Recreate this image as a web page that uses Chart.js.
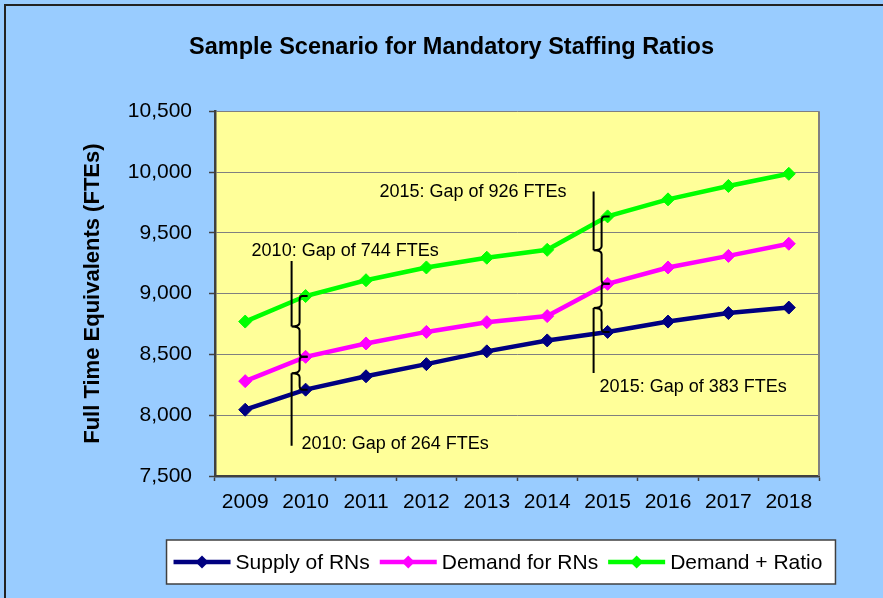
<!DOCTYPE html>
<html>
<head>
<meta charset="utf-8">
<title>Sample Scenario for Mandatory Staffing Ratios</title>
<script src="https://cdn.jsdelivr.net/npm/chart.js@4.4.1/dist/chart.umd.min.js"></script>
<style>
  html, body { margin: 0; padding: 0; background: #99CCFF; }
  #wrap { position: relative; width: 883px; height: 598px; }
</style>
</head>
<body>
<div id="wrap"><canvas id="gr1"></canvas></div>
<script>
// data
const years = ['2009', '2010', '2011', '2012', '2013', '2014', '2015', '2016', '2017', '2018'];
const supply = [8045, 8210, 8320, 8420, 8525, 8615, 8685, 8770, 8840, 8885];
const demand = [8280, 8480, 8590, 8685, 8765, 8815, 9080, 9215, 9310, 9410];
const demandRatio = [8770, 8980, 9110, 9215, 9295, 9360, 9635, 9775, 9885, 9985];
const seriesNames = ['Supply of RNs', 'Demand for RNs', 'Demand + Ratio'];
const yMin = 7500, yMax = 10500, yStep = 500;
const gapYears = ['2010', '2015'];
const gapUpper = ['2010: Gap of 744 FTEs', '2015: Gap of 926 FTEs'];
const gapLower = ['2010: Gap of 264 FTEs', '2015: Gap of 383 FTEs'];

const FONT = '"Liberation Sans", Arial, sans-serif';
Chart.defaults.font.family = FONT;
Chart.defaults.color = '#000';

// background, outer frame, yellow plot area
const bgPlugin = {
  id: 'bg',
  beforeDraw(chart) {
    const { ctx, chartArea: a, width, height } = chart;
    ctx.save();
    ctx.fillStyle = '#99CCFF';
    ctx.fillRect(0, 0, width, height);
    ctx.strokeStyle = '#222';
    ctx.lineWidth = 2;
    ctx.beginPath();
    ctx.moveTo(5, height + 5);
    ctx.lineTo(5, 5);
    ctx.lineTo(width + 5, 5);
    ctx.stroke();
    ctx.fillStyle = '#FFFF99';
    ctx.fillRect(a.left, a.top, a.right - a.left, a.bottom - a.top);
    ctx.restore();
  },
  beforeDatasetsDraw(chart) {
    const { ctx, chartArea: a } = chart;
    ctx.save();
    ctx.strokeStyle = '#808080';
    ctx.lineWidth = 2;
    ctx.beginPath();
    ctx.moveTo(a.right, a.top);
    ctx.lineTo(a.right, a.bottom);
    ctx.stroke();
    ctx.restore();
  }
};

function brace(ctx, bx, tipX, endX, y1, y2) {
  const ym = (y1 + y2) / 2;
  ctx.beginPath();
  ctx.moveTo(endX, y1);
  ctx.lineTo(bx + 3, y1);
  ctx.quadraticCurveTo(bx, y1, bx, y1 + 4);
  ctx.lineTo(bx, ym - 4);
  ctx.quadraticCurveTo(bx, ym, tipX, ym);
  ctx.quadraticCurveTo(bx, ym, bx, ym + 4);
  ctx.lineTo(bx, y2 - 4);
  ctx.quadraticCurveTo(bx, y2, bx + 3, y2);
  ctx.lineTo(endX, y2);
  ctx.stroke();
}

// gap call-outs with braces
const gapPlugin = {
  id: 'gaps',
  afterDatasetsDraw(chart) {
    const { ctx, scales: { x, y } } = chart;
    const look = [
      { top: -35, bottom: 56, upDx: -40, upDy: -10, upAlign: 'left', loDx: 10, loDy: -2 },
      { top: -25, bottom: 41, upDx: -27, upDy: 1, upAlign: 'right', loDx: 6, loDy: 14 }
    ];
    ctx.save();
    ctx.strokeStyle = '#000';
    ctx.fillStyle = '#000';
    ctx.lineWidth = 2;
    ctx.font = '18px ' + FONT;
    ctx.textBaseline = 'middle';
    gapYears.forEach((yr, k) => {
      const i = years.indexOf(yr);
      const L = look[k];
      const px = x.getPixelForValue(i);
      const lineX = px - 14;
      const bx = lineX + 8;
      const yG = y.getPixelForValue(demandRatio[i]);
      const yM = y.getPixelForValue(demand[i]);
      const yN = y.getPixelForValue(supply[i]);
      const top = yG + L.top, bottom = yN + L.bottom;
      const c1 = (yG + yM) / 2, c2 = (yM + yN) / 2;
      ctx.beginPath();
      ctx.moveTo(lineX, top); ctx.lineTo(lineX, c1);
      ctx.moveTo(lineX, c2); ctx.lineTo(lineX, bottom);
      ctx.stroke();
      brace(ctx, bx, lineX, px + 2, yG, yM);
      brace(ctx, bx, lineX, px + 2, yM, yN);
      ctx.textAlign = L.upAlign;
      ctx.fillText(gapUpper[k], lineX + L.upDx, top + L.upDy);
      ctx.textAlign = 'left';
      ctx.fillText(gapLower[k], lineX + L.loDx, bottom + L.loDy);
    });
    ctx.restore();
  }
};

// legend box at the bottom: line + diamond swatches
const legendPlugin = {
  id: 'legendBox',
  afterDraw(chart) {
    const ctx = chart.ctx;
    const sets = chart.data.datasets;
    ctx.save();
    ctx.font = '21px ' + FONT;
    const sw = 57, gapT = 5, gapI = 10, padL = 7, padR = 13;
    const widths = sets.map(d => ctx.measureText(d.label).width);
    let total = padL + padR;
    widths.forEach((w, i) => { total += sw + gapT + w + (i < widths.length - 1 ? gapI : 0); });
    const cx = 501, top = 540, h = 44;
    const left = cx - total / 2;
    ctx.fillStyle = '#fff';
    ctx.fillRect(left, top, total, h);
    ctx.strokeStyle = '#404040';
    ctx.lineWidth = 1.5;
    ctx.strokeRect(left, top, total, h);
    const cy = top + h / 2;
    let xx = left + padL;
    sets.forEach((d, i) => {
      ctx.strokeStyle = d.borderColor;
      ctx.lineWidth = 4.5;
      ctx.beginPath();
      ctx.moveTo(xx, cy); ctx.lineTo(xx + sw, cy);
      ctx.stroke();
      ctx.fillStyle = d.borderColor;
      const mx = xx + sw / 2, r = 6.5;
      ctx.beginPath();
      ctx.moveTo(mx, cy - r); ctx.lineTo(mx + r, cy); ctx.lineTo(mx, cy + r); ctx.lineTo(mx - r, cy);
      ctx.closePath(); ctx.fill();
      ctx.fillStyle = '#000';
      ctx.textAlign = 'left';
      ctx.textBaseline = 'middle';
      ctx.fillText(d.label, xx + sw + gapT, cy + 1);
      xx += sw + gapT + widths[i] + gapI;
    });
    ctx.restore();
  }
};

function line(label, data, color) {
  return {
    label: label,
    data: data,
    borderColor: color,
    backgroundColor: color,
    borderWidth: 4.5,
    pointStyle: 'rectRot',
    pointRadius: 6.5,
    pointBackgroundColor: color,
    pointBorderColor: color,
    pointBorderWidth: 1,
    tension: 0,
    fill: false
  };
}

const config = {
  type: 'line',
  data: {
    labels: years,
    datasets: [
      line(seriesNames[0], supply, '#000080'),
      line(seriesNames[1], demand, '#FF00FF'),
      line(seriesNames[2], demandRatio, '#00FF00')
    ]
  },
  options: {
    responsive: true,
    maintainAspectRatio: false,
    animation: false,
    events: [],
    layout: { padding: { left: 84, right: 64, top: 0, bottom: 77 } },
    plugins: {
      legend: { display: false },
      tooltip: { enabled: false },
      title: {
        display: true,
        text: 'Sample Scenario for Mandatory Staffing Ratios',
        color: '#000',
        font: { size: 23.5, weight: 'bold', lineHeight: 1.2 },
        padding: { top: 33, bottom: 50 }
      }
    },
    scales: {
      x: {
        offset: true,
        grid: { offset: true, drawOnChartArea: false, drawTicks: true, tickLength: 5, tickColor: '#404040', tickWidth: 1.5 },
        border: { color: '#404040', width: 2.5 },
        ticks: { font: { size: 21 }, color: '#000', padding: 9, maxRotation: 0 },
        afterFit(s) { s.height = 45; }
      },
      y: {
        min: yMin,
        max: yMax,
        grid: { color: '#808080', lineWidth: 1, drawTicks: true, tickLength: 6, tickColor: '#404040', tickWidth: 1.5 },
        border: { color: '#404040', width: 2.5 },
        ticks: { stepSize: yStep, font: { size: 21 }, color: '#000', padding: 17 },
        title: {
          display: true,
          text: 'Full Time Equivalents (FTEs)',
          color: '#000',
          font: { size: 22, weight: 'bold', lineHeight: 0.8 },
          padding: 0
        },
        afterFit(s) { s.width = 131; }
      }
    }
  },
  plugins: [bgPlugin, gapPlugin, legendPlugin]
};

const canv = document.getElementById('gr1');
const ctx = canv.getContext('2d');
const graph1 = new Chart(ctx, config);
</script>
</body>
</html>
